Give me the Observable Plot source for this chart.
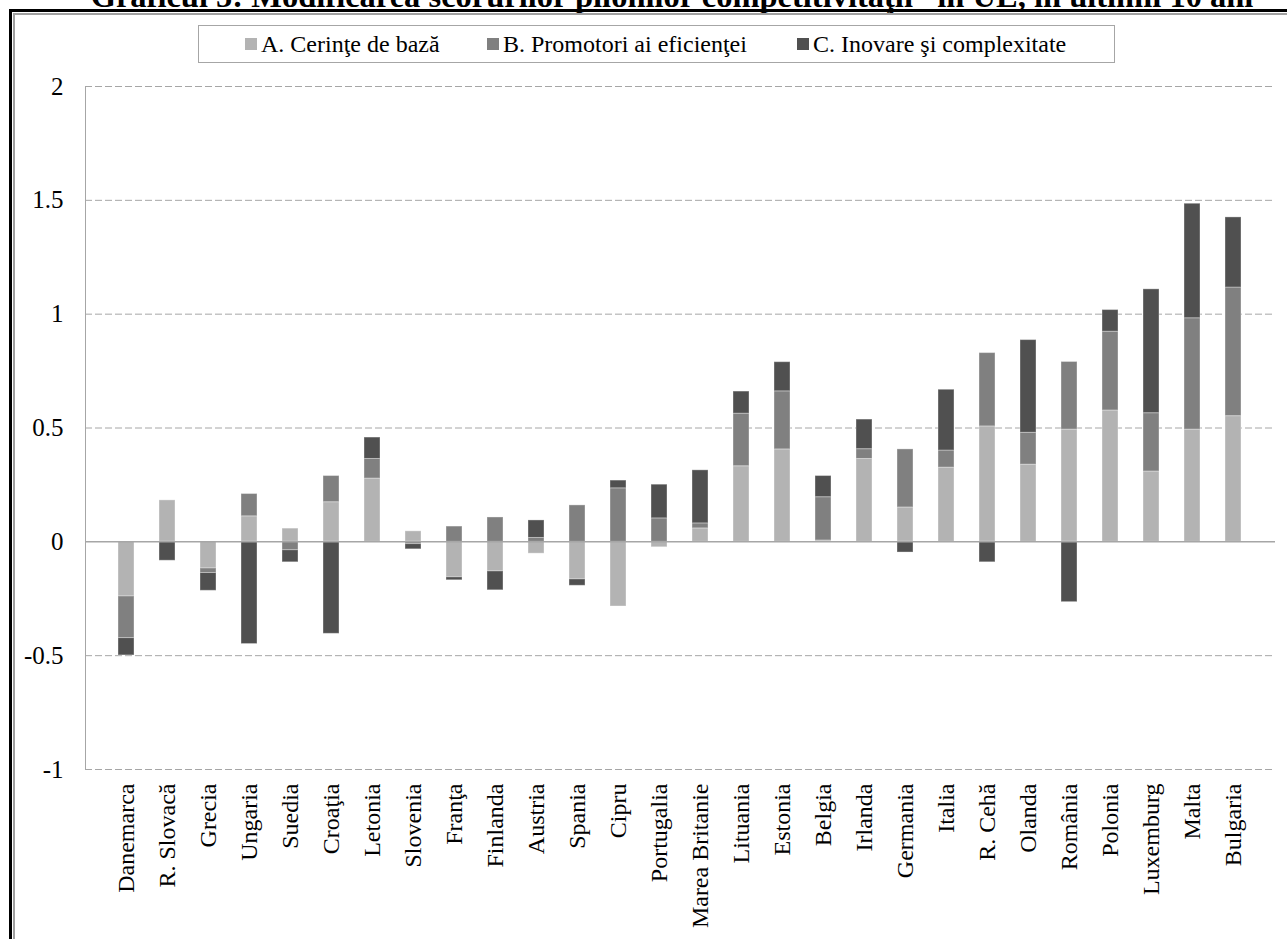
<!DOCTYPE html>
<html>
<head>
<meta charset="utf-8">
<script src="https://cdn.jsdelivr.net/npm/d3@7"></script>
<script src="https://cdn.jsdelivr.net/npm/@observablehq/plot@0.6"></script>
<style>
  body { margin: 0; background: #fff; }
  #wrap { position: relative; width: 1287px; height: 939px; overflow: hidden; background: #fff;
          font-family: "Liberation Serif", "Times New Roman", serif; color: #000; }
  .ln { position: absolute; }
  #title { position: absolute; left: 0; width: 1344px; top: -20px; text-align: center;
           font-family: "Liberation Serif", "Times New Roman", serif;
           font-weight: bold; font-size: 32.5px; line-height: 32px; white-space: nowrap; }
  #legend { position: absolute; left: 198px; top: 25px; width: 915px; height: 36px;
            border: 1px solid #a6a6a6; background: #fff; z-index: 3;
            font-family: "Liberation Serif", "Times New Roman", serif; font-size: 24px; }
  #legend .item { position: absolute; top: 0; height: 36px; display: flex; align-items: center; white-space: nowrap;
            font-family: "Liberation Serif", "Times New Roman", serif; }
  #legend .sw { width: 12px; height: 12px; margin-right: 4px; display: inline-block; }
  #chart { position: absolute; left: 0; top: 0; z-index: 2; }
</style>
</head>
<body>
<div id="wrap">
  <div id="title">Graficul 5: Modificarea scorurilor pilonilor competitivităţii* în UE, în ultimii 10 ani</div>
  <div class="ln" style="left:9px;top:9px;width:1278px;height:3px;background:#000"></div>
  <div class="ln" style="left:13px;top:13px;width:1274px;height:2px;background:#a0a0a0"></div>
  <div class="ln" style="left:9px;top:9px;width:3px;height:930px;background:#000"></div>
  <div class="ln" style="left:13px;top:13px;width:2px;height:926px;background:#a0a0a0"></div>
  <div id="legend"></div>
  <div id="chart"></div>
</div>
<script>
const countries = ["Danemarca","R. Slovacă","Grecia","Ungaria","Suedia","Croaţia","Letonia","Slovenia","Franţa","Finlanda","Austria","Spania","Cipru","Portugalia","Marea Britanie","Lituania","Estonia","Belgia","Irlanda","Germania","Italia","R. Cehă","Olanda","România","Polonia","Luxemburg","Malta","Bulgaria"];
const seriesNames = ["A. Cerinţe de bază","B. Promotori ai eficienţei","C. Inovare şi complexitate"];
const seriesColors = ["#b3b3b3","#808080","#505050"];
const valuesA = [-0.24,0.182,-0.117,0.112,0.058,0.174,0.278,0.046,-0.156,-0.13,-0.052,-0.165,-0.284,-0.024,0.059,0.332,0.406,0.006,0.364,0.151,0.326,0.507,0.339,0.493,0.577,0.309,0.493,0.552];
const valuesB = [-0.183,0,-0.02,0.098,-0.037,0.115,0.086,-0.01,0.067,0.107,0.017,0.16,0.235,0.103,0.022,0.231,0.255,0.19,0.043,0.255,0.075,0.322,0.14,0.297,0.346,0.256,0.489,0.565];
const valuesC = [-0.076,-0.083,-0.078,-0.449,-0.053,-0.404,0.094,-0.023,-0.013,-0.083,0.077,-0.028,0.034,0.148,0.233,0.097,0.128,0.093,0.13,-0.047,0.267,-0.09,0.407,-0.265,0.095,0.544,0.503,0.308];
const yTicks = [-1,-0.5,0,0.5,1,1.5,2];

const seriesValues = [valuesA, valuesB, valuesC];
const data = [];
countries.forEach((c, i) => {
  seriesNames.forEach((s, j) => data.push({country: c, series: s, value: seriesValues[j][i]}));
});

// legend (item offsets within the legend box)
const legendOffsets = [46, 288, 598];
const legend = document.getElementById("legend");
seriesNames.forEach((s, j) => {
  const it = document.createElement("div");
  it.className = "item";
  it.style.left = legendOffsets[j] + "px";
  it.innerHTML = `<span class="sw" style="background:${seriesColors[j]}"></span><span>${s}</span>`;
  legend.appendChild(it);
});

const chart = Plot.plot({
  width: 1287,
  height: 939,
  marginTop: 86,
  marginBottom: 170,
  marginLeft: 85,
  marginRight: 12,
  style: {background: "transparent", fontFamily: "'Liberation Serif', 'Times New Roman', serif", color: "#000"},
  x: {domain: countries, padding: 0.6, label: null},
  y: {domain: [-1, 2], label: null},
  color: {domain: seriesNames, range: seriesColors},
  marks: [
    Plot.gridY(yTicks.filter(d => d !== 0), {stroke: "#a6a6a6", strokeOpacity: 1, strokeDasharray: "7,3"}),
    Plot.frame({anchor: "left", stroke: "#a6a6a6"}),
    Plot.barY(data, Plot.stackY({x: "country", y: "value", fill: "series", stroke: "#ffffff", strokeOpacity: 0.35, strokeWidth: 1})),
    Plot.ruleY([0], {stroke: "#a6a6a6", strokeWidth: 1.5}),
    Plot.axisY({ticks: yTicks, tickSize: 0, tickPadding: 22, fontSize: 25, tickFormat: d => String(d), label: null}),
    Plot.axisX({tickRotate: -90, tickSize: 0, tickPadding: 14, fontSize: 24, label: null})
  ]
});
document.getElementById("chart").appendChild(chart);
</script>
</body>
</html>
